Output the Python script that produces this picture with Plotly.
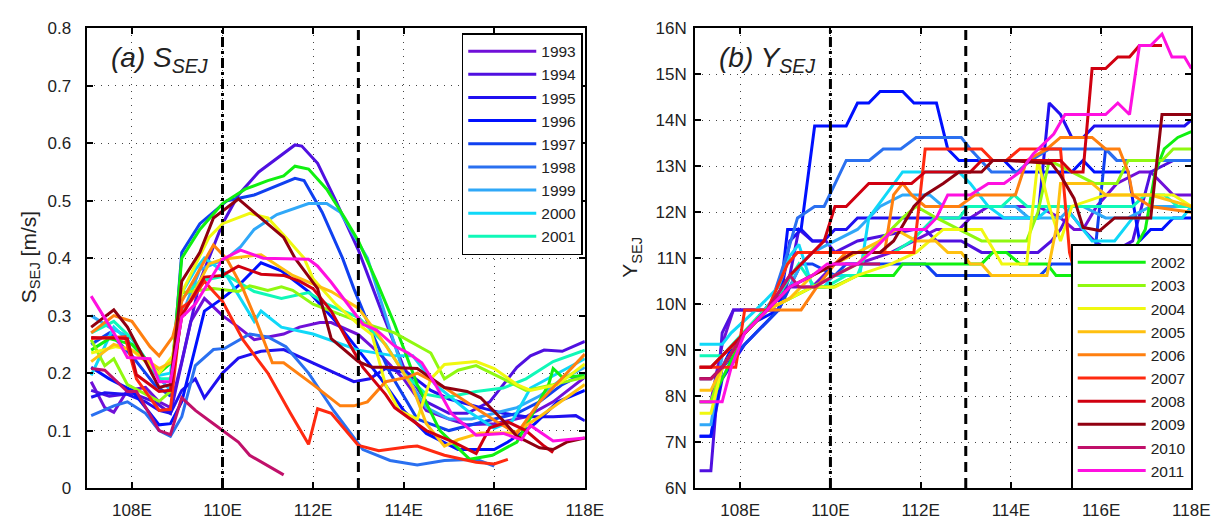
import plotly.graph_objects as go

YEARS = list(range(1993, 2012))
COLORS = ["#7010d8", "#5010e0", "#2010f0", "#0010ff", "#1040f0", "#2a70f0", "#30a8f8",
          "#10d8f8", "#10f8b8", "#10f010", "#90f810", "#f0f810", "#ffc010", "#ff8010",
          "#ff2a10", "#d00010", "#900010", "#c0106a", "#ff10e0"]

XTICKS = [108, 110, 112, 114, 116, 118]
XTICK_LABELS = ["108E", "110E", "112E", "114E", "116E", "118E"]
A_YTICKS = [0, 0.1, 0.2, 0.3, 0.4, 0.5, 0.6, 0.7, 0.8]
A_YTICK_LABELS = ["0", "0.1", "0.2", "0.3", "0.4", "0.5", "0.6", "0.7", "0.8"]
B_YTICKS = [6, 7, 8, 9, 10, 11, 12, 13, 14, 15, 16]
B_YTICK_LABELS = ["6N", "7N", "8N", "9N", "10N", "11N", "12N", "13N", "14N", "15N", "16N"]
REF_DASHDOT = 110
REF_DASH = 113

# ---------------- Panel (a): S_SEJ [m/s] ----------------
A1993_X = [107.1,107.4,107.6,107.9,108.3,108.6,108.85,109.1,109.3,109.6,110.0,110.35,110.7,111.35,111.7,112.15,112.4,113.0,113.45,114.0,114.5,115.0,115.4,116.0,116.7,117.3,118.0]
A1993_Y = [0.185,0.14,0.132,0.17,0.175,0.15,0.14,0.22,0.29,0.33,0.30,0.28,0.258,0.268,0.28,0.288,0.288,0.267,0.235,0.19,0.135,0.12,0.11,0.112,0.124,0.15,0.193]
A1994_X = [107.1,107.5,108.0,108.5,108.85,109.1,109.5,110.0,110.35,110.8,111.3,111.6,111.75,112.1,112.5,113.0,113.5,114.0,114.5,115.0,115.4,115.9,116.2,116.5,116.8,117.1,117.5,118.0]
A1994_Y = [0.17,0.16,0.165,0.15,0.13,0.22,0.36,0.46,0.51,0.55,0.58,0.597,0.595,0.565,0.50,0.414,0.31,0.21,0.15,0.13,0.13,0.15,0.18,0.21,0.23,0.24,0.238,0.255]
A1995_X = [107.1,107.4,107.9,108.3,108.6,108.85,109.1,109.4,109.6,110.0,110.35,110.85,111.35,112.0,112.5,112.9,113.25,113.6,114.1,114.6,115.0,115.4,115.7,116.2,116.7,117.3,117.8,118.0]
A1995_Y = [0.158,0.166,0.163,0.15,0.135,0.13,0.17,0.19,0.157,0.20,0.226,0.238,0.241,0.218,0.2,0.185,0.19,0.208,0.2,0.17,0.155,0.146,0.14,0.13,0.124,0.124,0.126,0.117]
A1996_X = [107.1,107.5,108.0,108.6,108.85,109.1,109.3,109.6,110.0,110.35,110.85,111.3,111.9,112.5,113.0,113.5,114.0,114.5,115.2,116.0,116.3,116.9,117.4,118.0]
A1996_Y = [0.21,0.19,0.17,0.11,0.112,0.15,0.213,0.308,0.33,0.352,0.392,0.378,0.342,0.29,0.24,0.19,0.135,0.095,0.067,0.067,0.08,0.112,0.15,0.17]
A1997_X = [107.1,107.5,108.0,108.5,108.85,109.1,109.5,110.1,110.7,111.3,111.6,111.8,112.2,112.65,112.9,113.3,113.7,114.3,115.0,115.5,116.0,116.5,117.0,117.5,118.0]
A1997_Y = [0.25,0.27,0.23,0.18,0.16,0.41,0.46,0.50,0.51,0.53,0.539,0.535,0.48,0.40,0.347,0.27,0.2,0.12,0.1,0.11,0.12,0.13,0.15,0.18,0.2]
A1998_X = [107.1,107.6,107.9,108.3,108.6,108.85,109.1,109.4,109.8,110.05,110.6,111.0,111.4,111.9,112.45,113.1,113.7,114.1,114.3,114.9,115.6,116.0]
A1998_Y = [0.126,0.143,0.15,0.13,0.1,0.09,0.124,0.213,0.241,0.243,0.268,0.263,0.246,0.2,0.135,0.067,0.048,0.042,0.04,0.048,0.05,0.038]
A1999_X = [107.1,107.5,108.0,108.5,108.85,109.1,109.5,110.1,110.4,110.7,111.2,111.9,112.3,112.6,113.2,113.6,114.0,114.5,115.0,115.5,116.0,116.5,117.0,117.5,118.0]
A1999_Y = [0.30,0.28,0.26,0.2,0.17,0.3,0.38,0.40,0.42,0.45,0.476,0.495,0.495,0.48,0.40,0.3,0.2,0.14,0.12,0.12,0.13,0.14,0.16,0.19,0.21]
A2000_X = [107.1,107.6,108.0,108.6,108.85,109.1,109.4,109.6,110.05,110.4,110.7,110.85,111.3,112.0,113.0,113.8,114.2,114.7,115.4,116.0,116.4,116.8,117.4,118.0]
A2000_Y = [0.196,0.28,0.25,0.196,0.2,0.34,0.38,0.40,0.375,0.33,0.29,0.308,0.28,0.268,0.24,0.23,0.23,0.18,0.135,0.104,0.117,0.174,0.2,0.225]
A2001_X = [107.1,107.6,108.0,108.6,108.85,109.1,109.5,110.1,110.7,111.3,111.9,112.3,113.0,113.6,114.0,114.5,114.9,115.6,116.2,116.7,117.3,118.0]
A2001_Y = [0.27,0.29,0.26,0.19,0.19,0.33,0.36,0.37,0.342,0.33,0.34,0.32,0.297,0.25,0.2,0.163,0.157,0.168,0.174,0.19,0.22,0.24]
A2002_X = [107.1,107.5,108.0,108.6,108.9,109.1,109.5,110.0,110.5,111.0,111.35,111.6,111.9,112.3,112.7,113.0,113.4,113.8,114.3,114.8,115.46,115.96,116.5,117.2,117.3,117.5,118.0]
A2002_Y = [0.24,0.26,0.25,0.2,0.22,0.4,0.45,0.495,0.52,0.535,0.543,0.56,0.555,0.52,0.47,0.43,0.36,0.285,0.18,0.1,0.05,0.057,0.08,0.18,0.208,0.193,0.196]
A2003_X = [107.1,107.4,107.6,107.9,108.6,108.85,109.1,109.8,110.35,110.6,111.0,111.3,111.55,112.0,113.0,113.8,114.6,114.9,115.2,115.6,116.2,116.7,117.3,118.0]
A2003_Y = [0.258,0.213,0.225,0.18,0.151,0.168,0.34,0.347,0.342,0.352,0.344,0.35,0.344,0.32,0.29,0.27,0.235,0.19,0.205,0.213,0.19,0.17,0.18,0.193]
A2004_X = [107.1,107.65,108.0,108.6,108.9,109.1,109.7,110.0,110.6,111.0,111.4,111.8,112.0,112.5,113.0,113.3,113.6,113.9,114.3,114.6,114.9,115.6,116.0,116.5,116.8,117.4,118.0]
A2004_Y = [0.235,0.246,0.24,0.2,0.23,0.34,0.436,0.46,0.478,0.47,0.436,0.40,0.364,0.32,0.285,0.267,0.18,0.135,0.12,0.19,0.215,0.22,0.208,0.18,0.17,0.18,0.216]
A2005_X = [107.1,107.6,108.0,108.6,108.9,109.1,109.3,109.7,110.0,110.85,111.55,112.4,113.0,113.5,113.8,114.2,114.5,114.9,115.2,115.7,116.45,117.0,118.0]
A2005_Y = [0.22,0.25,0.24,0.208,0.22,0.3,0.33,0.39,0.398,0.406,0.37,0.342,0.313,0.26,0.225,0.175,0.112,0.073,0.084,0.096,0.096,0.124,0.18]
A2006_X = [107.1,107.6,108.0,108.4,108.6,108.9,109.1,109.5,109.8,110.1,110.45,110.7,111.1,111.35,112.0,112.6,112.9,113.2,113.6,114.1,114.3,114.9,116.0,116.5,117.0,118.0]
A2006_Y = [0.27,0.30,0.29,0.246,0.23,0.263,0.325,0.38,0.423,0.398,0.347,0.30,0.218,0.218,0.18,0.143,0.143,0.15,0.185,0.193,0.2,0.175,0.118,0.095,0.15,0.233]
A2007_X = [107.1,107.85,108.1,108.6,108.85,109.1,109.3,109.6,109.8,110.0,110.45,111.0,111.5,111.9,112.1,112.4,113.0,113.45,114.1,114.3,114.9,115.6,116.0,116.3]
A2007_Y = [0.26,0.263,0.19,0.135,0.137,0.314,0.325,0.36,0.342,0.325,0.258,0.2,0.13,0.076,0.138,0.13,0.074,0.065,0.072,0.073,0.057,0.045,0.042,0.05]
A2008_X = [107.1,107.9,108.1,108.6,108.85,109.1,109.6,110.0,110.35,110.85,111.35,111.7,112.0,112.4,112.75,113.1,113.6,113.8,114.5,115.1,115.6,115.9,116.3,116.7,117.1,117.3]
A2008_Y = [0.262,0.26,0.197,0.168,0.17,0.3,0.367,0.37,0.386,0.372,0.37,0.36,0.347,0.308,0.258,0.21,0.163,0.14,0.1,0.08,0.06,0.105,0.115,0.1,0.073,0.062]
A2009_X = [107.1,107.6,107.9,108.6,108.85,109.1,109.5,109.8,110.35,111.35,111.6,112.1,112.4,113.0,113.3,113.6,114.3,114.9,115.4,115.7,116.2,116.5,117.0,117.3,117.6,118.0]
A2009_Y = [0.28,0.31,0.28,0.175,0.18,0.36,0.41,0.47,0.503,0.436,0.40,0.347,0.26,0.22,0.21,0.21,0.208,0.175,0.168,0.157,0.117,0.09,0.07,0.067,0.08,0.087]
A2010_X = [107.1,107.4,107.9,108.1,108.6,108.85,109.1,109.4,109.8,110.35,110.6,111.35]
A2010_Y = [0.208,0.205,0.168,0.168,0.1,0.093,0.157,0.135,0.112,0.08,0.057,0.023]
A2011_X = [107.1,107.6,107.9,108.4,108.6,108.85,109.1,109.4,110.0,110.4,110.9,111.9,112.1,112.4,113.1,113.4,113.8,114.1,114.4,114.7,115.05,115.6,116.2,116.6,116.8,117.3,118.0]
A2011_Y = [0.334,0.27,0.227,0.225,0.185,0.185,0.297,0.32,0.398,0.414,0.40,0.398,0.386,0.358,0.285,0.275,0.247,0.235,0.218,0.18,0.13,0.092,0.095,0.084,0.109,0.082,0.087]

# ---------------- Panel (b): Y_SEJ [deg N] ----------------
B1993_X = [107.1,107.35,107.6,107.85,108.85,109.1,109.6,110.1,110.6,111.35,111.85,112.35,112.85,113.1,113.5,114.6,115.1,115.4,115.6,115.9,116.35,116.85,117.1,117.6,118.0]
B1993_Y = [7.875,7.875,9.125,9.875,9.875,10.375,10.375,10.875,10.875,11.125,11.375,11.625,11.625,11.875,12.125,12.125,11.875,11.625,11.625,12.125,12.625,12.875,12.875,12.375,12.375]
B1994_X = [107.1,107.35,107.6,107.85,108.85,109.1,109.3,109.6,109.9,110.1,110.6,111.85,112.1,112.35,112.9,113.35,114.6,114.9,115.1,115.3,115.6,115.85,116.25,116.7,117.1,117.6,118.0]
B1994_Y = [6.375,6.375,9.375,9.875,9.875,10.625,11.625,11.375,11.375,11.125,11.375,11.625,11.625,11.375,11.375,11.125,11.125,11.375,11.625,12.0,11.625,11.375,11.125,11.375,12.875,13.125,13.125]
B1995_X = [107.1,107.35,107.6,108.1,108.6,108.85,109.1,109.35,109.6,109.85,110.1,110.35,110.6,114.6,114.85,115.1,115.35,115.6,115.85,117.85,118.0]
B1995_Y = [7.125,7.125,8.375,9.125,9.625,9.875,11.375,11.625,11.375,11.375,11.625,11.625,11.875,11.875,14.375,14.125,13.625,13.625,13.875,13.875,14.0]
B1996_X = [107.1,107.35,107.6,107.85,108.35,108.85,109.05,109.35,109.65,110.35,110.6,110.85,111.1,111.6,111.85,112.35,112.6,112.85,113.85,114.1,115.35,115.6,115.85,116.6,116.85,117.1,117.35,117.6,118.0]
B1996_Y = [7.125,7.125,8.625,9.125,9.625,9.875,11.625,11.625,13.875,13.875,14.375,14.375,14.625,14.625,14.375,14.375,13.375,13.125,13.125,12.875,12.875,13.125,12.875,12.875,11.375,11.625,11.625,11.875,11.875]
B1997_X = [107.1,107.35,107.6,108.1,108.6,108.85,109.1,109.35,109.6,110.1,110.35,110.65,112.1,112.35,112.6,114.65,114.9,115.35,115.85,116.1,116.35,118.0]
B1997_Y = [8.375,8.375,8.625,9.125,9.625,9.875,10.375,10.875,10.875,10.625,10.875,10.875,10.875,10.625,10.625,10.625,10.875,10.875,11.0,13.375,13.125,13.125]
B1998_X = [107.1,107.35,107.6,108.1,108.7,109.05,109.27,109.65,109.86,110.35,110.86,111.17,111.56,111.9,112.9,113.1,113.57,114.14,114.44,114.85,115.85,116.1,116.35,118.0]
B1998_Y = [8.625,8.625,8.875,9.375,10.07,11.125,11.875,12.125,12.125,13.125,13.125,13.375,13.375,13.625,13.625,13.375,12.875,12.875,13.125,13.375,13.375,13.375,13.125,13.125]
B1999_X = [107.1,107.35,107.6,108.1,108.6,109.1,109.35,109.6,110.1,110.6,110.85,111.1,111.6,112.2,112.5,114.1,114.4,115.1,115.35,115.6,116.1,116.6,117.1,118.0]
B1999_Y = [7.375,7.375,8.875,9.375,9.875,10.375,10.875,11.125,11.375,11.625,11.875,12.125,12.375,12.375,12.125,12.125,11.875,11.875,12.125,12.125,11.875,11.875,12.125,12.125]
B2000_X = [107.1,107.6,107.8,108.35,108.85,109.1,109.3,109.6,109.86,110.07,110.65,110.85,111.6,112.85,113.1,113.5,113.85,114.6,114.9,115.16,115.4,115.8,116.3,116.7,117.8,118.0]
B2000_Y = [9.125,9.125,9.375,9.875,10.375,11.05,11.3,10.375,10.375,10.625,10.625,11.875,12.875,12.875,12.625,12.125,11.875,11.875,12.125,12.125,11.875,11.375,11.375,11.875,11.875,12.125]
B2001_X = [107.1,107.6,108.3,108.85,109.3,109.65,109.9,110.35,110.6,110.8,111.4,111.8,112.3,112.85,113.05,113.8,114.07,114.36,116.7,116.98,117.4,117.7,118.0]
B2001_Y = [8.875,8.875,9.625,10.2,10.875,10.375,10.375,10.625,10.625,11.125,11.125,11.375,11.875,11.875,12.125,12.125,12.375,12.125,12.125,12.375,12.375,12.125,12.125]
B2002_X = [107.1,107.35,107.6,108.1,108.6,109.1,109.6,110.07,110.6,111.4,111.6,113.35,113.6,113.9,114.2,114.8,115.0,116.35,116.7,116.98,117.2,117.4,117.7,118.0]
B2002_Y = [7.875,7.875,8.375,9.375,9.875,10.125,10.375,10.375,10.625,10.625,10.875,10.875,11.125,11.125,10.875,10.875,10.625,10.625,11.125,11.625,12.875,13.375,13.625,13.75]
B2003_X = [107.1,107.35,107.6,108.1,108.6,109.1,109.6,110.1,110.6,111.1,111.6,111.9,112.35,112.85,113.35,114.35,114.6,114.85,115.35,115.85,116.35,116.6,117.35,117.6,118.0]
B2003_Y = [7.875,7.875,8.625,9.375,9.875,10.125,10.375,10.625,10.875,11.375,11.875,12.125,11.875,11.625,11.375,11.375,12.0,13.125,12.875,12.625,12.625,13.125,13.125,13.375,13.375]
B2004_X = [107.1,107.35,107.6,108.1,108.6,109.1,109.6,110.1,110.6,111.35,111.9,112.5,113.35,113.8,114.35,114.6,114.85,115.1,115.35,116.1,117.6,118.0]
B2004_Y = [7.625,7.625,8.625,9.375,9.875,10.125,10.375,10.375,10.625,10.875,11.125,11.625,11.625,10.875,10.875,13.125,12.125,11.375,12.125,12.375,12.375,12.125]
B2005_X = [107.1,107.35,107.6,108.1,108.6,109.1,109.6,110.1,110.6,111.1,111.45,111.9,112.33,112.6,112.9,113.1,113.35,113.57,114.8,115.0,115.1,115.8,116.1,117.1,118.0]
B2005_Y = [8.125,8.125,8.625,9.375,9.875,10.125,10.625,10.875,11.125,11.375,11.625,11.375,11.375,11.125,11.125,10.875,10.875,10.625,10.625,11.625,12.625,12.625,12.375,12.375,12.125]
B2006_X = [107.1,107.35,107.6,108.1,108.6,109.0,109.35,109.7,110.1,110.35,111.2,111.4,111.6,111.8,112.1,112.85,113.2,114.1,114.35,114.8,115.1,115.8,116.1,116.4,116.6,116.7,117.1,118.0]
B2006_Y = [8.625,8.625,8.875,9.375,9.875,9.875,9.875,10.375,10.875,11.125,11.125,12.375,12.625,12.375,12.125,12.125,12.375,12.375,13.125,13.375,13.625,13.625,13.375,13.375,12.875,12.375,12.125,12.0]
B2007_X = [107.1,107.35,107.68,107.9,108.1,108.6,109.05,109.27,109.6,111.85,112.1,113.35,113.6,113.9,114.2,115.1,115.3,115.5,116.2]
B2007_Y = [8.625,8.625,8.625,8.625,9.875,9.875,10.875,11.125,11.125,11.125,13.375,13.375,13.125,13.125,13.375,13.375,11.125,10.375,10.375]
B2008_X = [107.1,107.35,107.6,108.1,108.6,109.1,109.6,109.86,110.1,110.35,110.85,111.8,112.1,112.6,113.1,113.35,115.1,115.35,115.6,115.8,116.1,116.37,116.63,116.85,117.35]
B2008_Y = [8.625,8.625,8.875,9.375,9.875,10.625,11.125,11.375,12.125,12.125,12.625,12.625,12.875,12.875,12.875,13.125,13.125,12.875,12.875,15.125,15.125,15.375,15.375,15.625,15.625]
B2009_X = [107.1,107.35,107.6,108.1,108.6,109.1,109.6,110.1,110.5,111.1,111.4,111.85,112.1,112.5,112.85,113.35,113.6,113.93,114.9,115.1,115.4,115.6,115.97,116.3,117.1,117.35,118.0]
B2009_Y = [8.375,8.375,8.625,9.375,9.875,10.375,10.625,10.875,11.125,11.125,11.375,12.125,12.375,12.625,12.875,12.875,13.125,13.125,13.06,12.8,12.3,11.67,11.6,11.875,11.875,14.125,14.125]
B2010_X = [107.1,107.35,107.6,108.1,108.6,109.1,109.3,109.65,110.1,110.6,111.1]
B2010_Y = [8.375,8.375,8.625,9.375,9.875,10.625,10.375,10.375,10.625,10.875,10.875]
B2011_X = [107.1,107.6,107.8,108.1,108.6,109.1,109.6,109.93,110.6,110.9,111.4,112.1,112.35,112.6,113.1,113.5,113.85,114.2,114.5,114.95,115.2,116.1,116.37,116.63,116.85,117.1,117.35,117.57,117.85,118.0]
B2011_Y = [7.875,7.875,8.625,9.375,9.875,10.375,10.625,10.875,10.875,11.125,11.625,11.625,11.875,12.375,12.375,12.625,12.625,12.875,13.27,13.7,14.125,14.125,14.375,14.125,15.625,15.625,15.875,15.375,15.375,15.125]

A_SERIES = [(A1993_X, A1993_Y), (A1994_X, A1994_Y), (A1995_X, A1995_Y), (A1996_X, A1996_Y),
            (A1997_X, A1997_Y), (A1998_X, A1998_Y), (A1999_X, A1999_Y), (A2000_X, A2000_Y),
            (A2001_X, A2001_Y), (A2002_X, A2002_Y), (A2003_X, A2003_Y), (A2004_X, A2004_Y),
            (A2005_X, A2005_Y), (A2006_X, A2006_Y), (A2007_X, A2007_Y), (A2008_X, A2008_Y),
            (A2009_X, A2009_Y), (A2010_X, A2010_Y), (A2011_X, A2011_Y)]
B_SERIES = [(B1993_X, B1993_Y), (B1994_X, B1994_Y), (B1995_X, B1995_Y), (B1996_X, B1996_Y),
            (B1997_X, B1997_Y), (B1998_X, B1998_Y), (B1999_X, B1999_Y), (B2000_X, B2000_Y),
            (B2001_X, B2001_Y), (B2002_X, B2002_Y), (B2003_X, B2003_Y), (B2004_X, B2004_Y),
            (B2005_X, B2005_Y), (B2006_X, B2006_Y), (B2007_X, B2007_Y), (B2008_X, B2008_Y),
            (B2009_X, B2009_Y), (B2010_X, B2010_Y), (B2011_X, B2011_Y)]

W, H = 1231, 526
FONT = "Liberation Sans, Arial, sans-serif"

fig = go.Figure()
for i, yr in enumerate(YEARS):
    xa, ya = A_SERIES[i]
    fig.add_trace(go.Scatter(x=xa, y=ya, mode="lines", name=str(yr),
                             line=dict(color=COLORS[i], width=3),
                             xaxis="x", yaxis="y", legend="legend",
                             showlegend=yr <= 2001))
for i, yr in enumerate(YEARS):
    xb, yb = B_SERIES[i]
    fig.add_trace(go.Scatter(x=xb, y=yb, mode="lines", name=str(yr),
                             line=dict(color=COLORS[i], width=3),
                             xaxis="x2", yaxis="y2", legend="legend2",
                             showlegend=yr >= 2002))

px = lambda v: v / W
py = lambda v: 1 - v / H

axis_common = dict(showline=True, linecolor="black", linewidth=2, mirror="ticks",
                   ticks="inside", ticklen=6, tickwidth=1.5, tickcolor="black",
                   showgrid=True, gridcolor="#444", gridwidth=1, griddash="1px,6px",
                   zeroline=False, tickfont=dict(family=FONT, size=17, color="#222"))

fig.update_layout(
    width=W, height=H, margin=dict(l=0, r=0, t=0, b=0),
    paper_bgcolor="white", plot_bgcolor="white",
    xaxis=dict(domain=[px(88), px(594)], range=[107, 118], tickvals=XTICKS,
               ticktext=XTICK_LABELS, anchor="y", ticklabelstandoff=6, **axis_common),
    yaxis=dict(domain=[py(497), py(20)], range=[0, 0.8], tickvals=A_YTICKS,
               ticktext=A_YTICK_LABELS, anchor="x", ticklabelstandoff=10, **axis_common),
    xaxis2=dict(domain=[px(706), px(1210)], range=[107, 118], tickvals=XTICKS,
                ticktext=XTICK_LABELS, anchor="y2", ticklabelstandoff=6, **axis_common),
    yaxis2=dict(domain=[py(497), py(20)], range=[6, 16], tickvals=B_YTICKS,
                ticktext=B_YTICK_LABELS, anchor="x2", ticklabelstandoff=3, **axis_common),
    legend=dict(x=px(469), y=py(25), xanchor="left", yanchor="top",
                bgcolor="white", bordercolor="black", borderwidth=1.5,
                font=dict(family=FONT, size=15.5, color="#222"), itemwidth=68,
                tracegroupgap=0),
    legend2=dict(x=px(1088), y=py(244), xanchor="left", yanchor="top",
                 bgcolor="white", bordercolor="black", borderwidth=1.5,
                 font=dict(family=FONT, size=15.5, color="#222"), itemwidth=68,
                 tracegroupgap=0),
    showlegend=True,
)

for xr, yr_ in [("x", "y"), ("x2", "y2")]:
    fig.add_shape(type="line", xref=xr, yref=f"{yr_} domain",
                  x0=REF_DASHDOT, x1=REF_DASHDOT, y0=0, y1=1, layer="above",
                  line=dict(color="black", width=3, dash="10px,4px,3px,4px"))
    fig.add_shape(type="line", xref=xr, yref=f"{yr_} domain",
                  x0=REF_DASH, x1=REF_DASH, y0=0, y1=1, layer="above",
                  line=dict(color="black", width=3, dash="10px,6px"))

# Axis titles (placed as rotated annotations)
fig.add_annotation(x=px(30), y=py(258), xref="paper", yref="paper", xanchor="center",
                   yanchor="middle", showarrow=False, textangle=-90,
                   text="S<sub>SEJ</sub> [m/s]", font=dict(family=FONT, size=21, color="#222"))
fig.add_annotation(x=px(641), y=py(258), xref="paper", yref="paper", xanchor="center",
                   yanchor="middle", showarrow=False, textangle=-90,
                   text="Y<sub>SEJ</sub>", font=dict(family=FONT, size=21, color="#222"))

# Panel titles
fig.add_annotation(x=px(111), y=py(52), xref="paper", yref="paper", xanchor="left",
                   yanchor="middle", showarrow=False,
                   text="<i>(a) S<sub>SEJ</sub></i>",
                   font=dict(family=FONT, size=28, color="#222"))
fig.add_annotation(x=px(728), y=py(52), xref="paper", yref="paper", xanchor="left",
                   yanchor="middle", showarrow=False,
                   text="<i>(b) Y<sub>SEJ</sub></i>",
                   font=dict(family=FONT, size=28, color="#222"))

fig.write_html("out.html")
